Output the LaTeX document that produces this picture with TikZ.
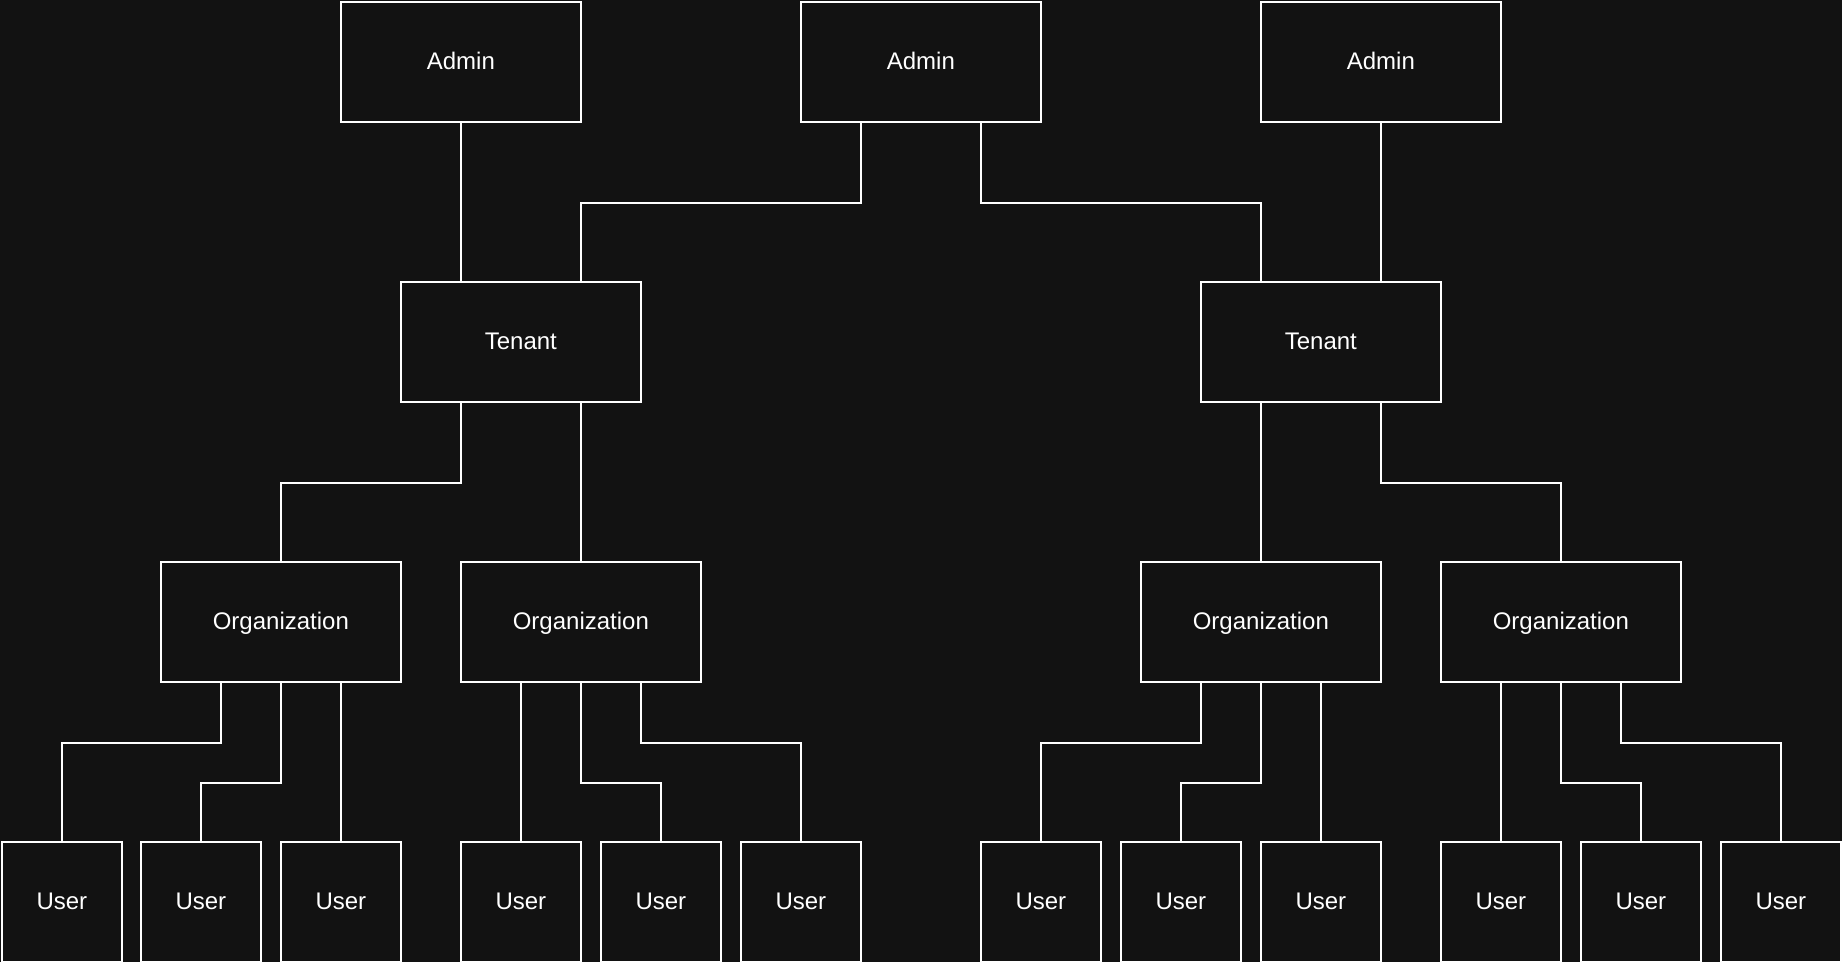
\documentclass[tikz,border=0pt]{standalone}
\usepackage{fontspec}
\setmainfont{Liberation Sans}
\usetikzlibrary{calc}
\definecolor{bg}{RGB}{18,18,18}
\begin{document}
\begin{tikzpicture}[x=0.5pt,y=-0.5pt,
  box/.style={draw=white,fill=bg,line width=0.85pt,inner sep=0pt,anchor=north west,
    text=white,font=\fontsize{12}{14}\selectfont,text depth=1pt},
  wide/.style={box,minimum width=120pt,minimum height=60pt},
  sq/.style={box,minimum width=60pt,minimum height=60pt},
  link/.style={draw=white,line width=0.85pt}]
\fill[bg] (0,0) rectangle (1842,962);
\useasboundingbox (0,0) rectangle (1842,962);
% admins
\node[wide] (a1) at (340,1) {Admin};
\node[wide] (a2) at (800,1) {Admin};
\node[wide] (a3) at (1260,1) {Admin};
% tenants
\node[wide] (t1) at (400,281) {Tenant};
\node[wide] (t2) at (1200,281) {Tenant};
% organizations
\node[wide] (o1) at (160,561) {Organization};
\node[wide] (o2) at (460,561) {Organization};
\node[wide] (o3) at (1140,561) {Organization};
\node[wide] (o4) at (1440,561) {Organization};
% users
\node[sq] (u1) at (1,841) {User};
\node[sq] (u2) at (140,841) {User};
\node[sq] (u3) at (280,841) {User};
\node[sq] (u4) at (460,841) {User};
\node[sq] (u5) at (600,841) {User};
\node[sq] (u6) at (740,841) {User};
\node[sq] (u7) at (980,841) {User};
\node[sq] (u8) at (1120,841) {User};
\node[sq] (u9) at (1260,841) {User};
\node[sq] (u10) at (1440,841) {User};
\node[sq] (u11) at (1580,841) {User};
\node[sq] (u12) at (1720,841) {User};
% admin -> tenant
\draw[link] (a1.south) -- ([xshift=-30pt]t1.north);
\draw[link] ([xshift=-30pt]a2.south) -- ++(0,-40pt) -| ([xshift=30pt]t1.north);
\draw[link] ([xshift=30pt]a2.south) -- ++(0,-40pt) -| ([xshift=-30pt]t2.north);
\draw[link] (a3.south) -- ([xshift=30pt]t2.north);
% tenant -> org
\draw[link] ([xshift=-30pt]t1.south) -- ++(0,-40pt) -| (o1.north);
\draw[link] ([xshift=30pt]t1.south) -- (o2.north);
\draw[link] ([xshift=-30pt]t2.south) -- (o3.north);
\draw[link] ([xshift=30pt]t2.south) -- ++(0,-40pt) -| (o4.north);
% org -> users
\draw[link] ([xshift=-30pt]o1.south) -- ++(0,-30pt) -| (u1.north);
\draw[link] (o1.south) -- ++(0,-50pt) -| (u2.north);
\draw[link] ([xshift=30pt]o1.south) -- (u3.north);
\draw[link] ([xshift=-30pt]o2.south) -- (u4.north);
\draw[link] (o2.south) -- ++(0,-50pt) -| (u5.north);
\draw[link] ([xshift=30pt]o2.south) -- ++(0,-30pt) -| (u6.north);
\draw[link] ([xshift=-30pt]o3.south) -- ++(0,-30pt) -| (u7.north);
\draw[link] (o3.south) -- ++(0,-50pt) -| (u8.north);
\draw[link] ([xshift=30pt]o3.south) -- (u9.north);
\draw[link] ([xshift=-30pt]o4.south) -- (u10.north);
\draw[link] (o4.south) -- ++(0,-50pt) -| (u11.north);
\draw[link] ([xshift=30pt]o4.south) -- ++(0,-30pt) -| (u12.north);
\end{tikzpicture}
\end{document}
